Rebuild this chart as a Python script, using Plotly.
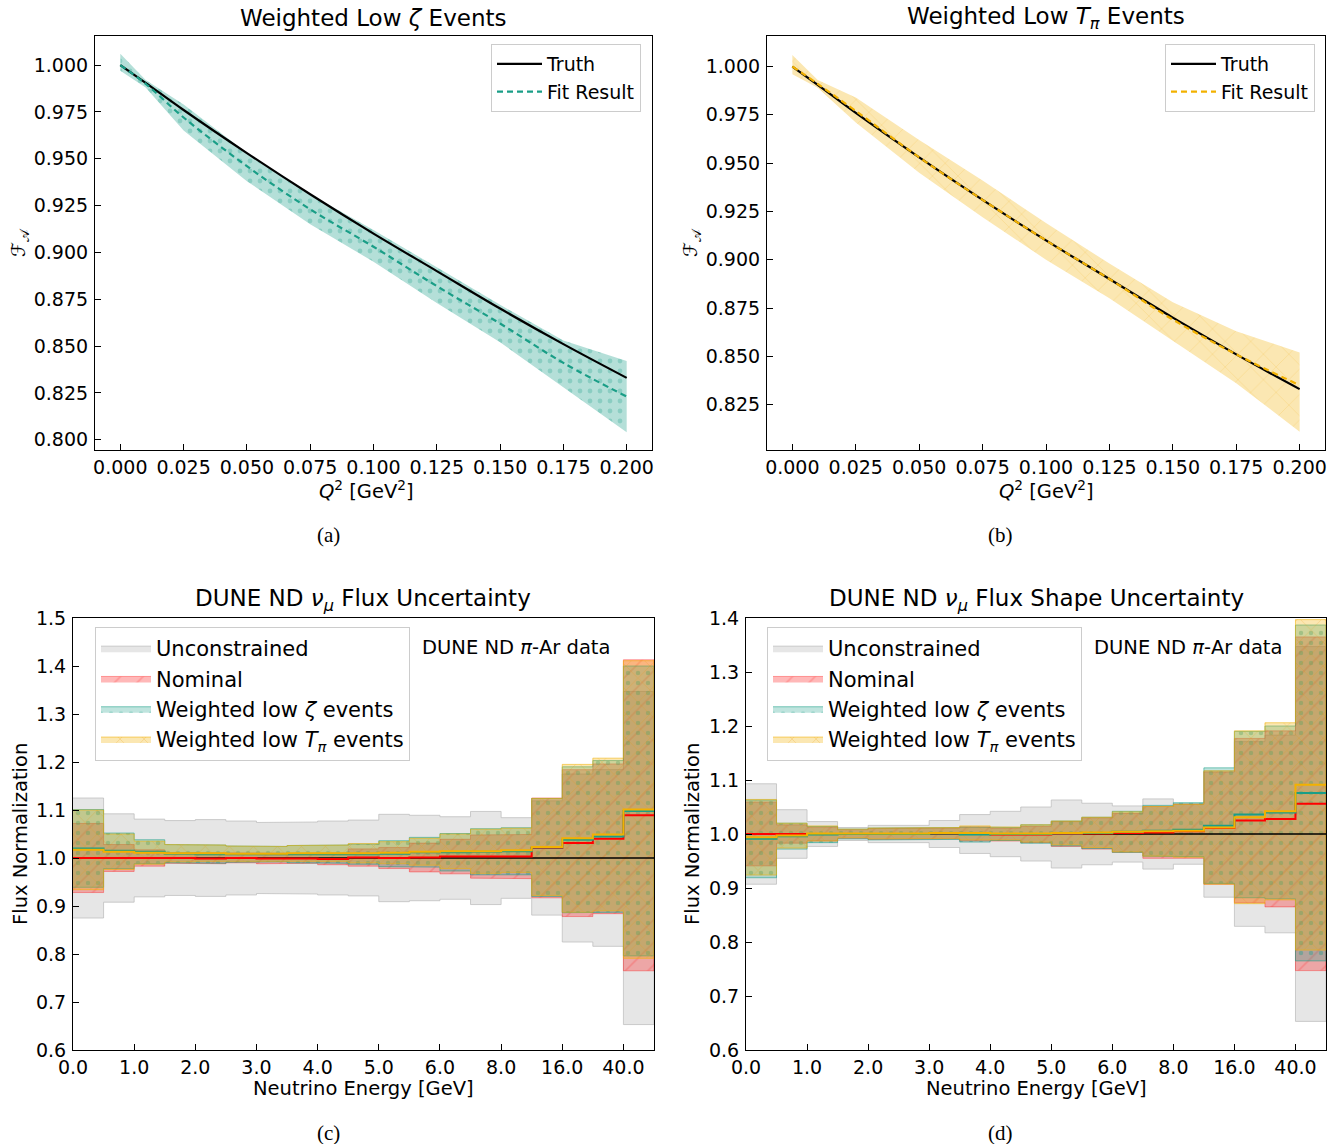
import plotly.graph_objects as go

W, H = 1338, 1144
FONT = "DejaVu Sans"

# ---------------- data: top panels (form factor vs Q^2) ----------------
q2 = [0.0, 0.01, 0.025, 0.05, 0.075, 0.1, 0.125, 0.15, 0.175, 0.2]
truth = [1.000, 0.9905, 0.976, 0.953, 0.931, 0.910, 0.890, 0.870, 0.851, 0.833]

zeta_fit = [1.000, 0.990, 0.972, 0.946, 0.923, 0.903, 0.882, 0.862, 0.841, 0.823]
zeta_hi = [1.006, 0.992, 0.979, 0.953, 0.931, 0.912, 0.892, 0.872, 0.853, 0.842]
zeta_lo = [0.997, 0.988, 0.965, 0.938, 0.915, 0.895, 0.873, 0.852, 0.828, 0.804]

tpi_fit = [1.000, 0.991, 0.977, 0.953, 0.931, 0.910, 0.890, 0.869, 0.851, 0.835]
tpi_hi = [1.006, 0.993, 0.984, 0.962, 0.941, 0.919, 0.898, 0.878, 0.863, 0.852]
tpi_lo = [0.996, 0.989, 0.971, 0.945, 0.922, 0.900, 0.880, 0.858, 0.836, 0.811]

q2_ticks = [0.0, 0.025, 0.05, 0.075, 0.1, 0.125, 0.15, 0.175, 0.2]

# ---------------- data: bottom panels (flux normalisation per bin) ----------------
energy_tick_labels = ["0.0", "1.0", "2.0", "3.0", "4.0", "5.0", "6.0", "8.0", "16.0", "40.0"]
n_bins = 19

# panel (c): DUNE ND nu_mu flux uncertainty
c_unc_center = [1.0] * n_bins
c_unc_err = [0.125, 0.092, 0.081, 0.078, 0.080, 0.077, 0.074, 0.075, 0.077, 0.079,
             0.091, 0.089, 0.086, 0.097, 0.084, 0.119, 0.175, 0.184, 0.347]
c_nom_center = [1.000, 1.000, 1.000, 1.000, 0.999, 1.000, 0.999, 0.999, 0.998, 1.001,
                1.000, 1.001, 1.003, 1.003, 1.003, 1.021, 1.031, 1.040, 1.089]
c_nom_err = [0.072, 0.028, 0.017, 0.011, 0.011, 0.010, 0.011, 0.010, 0.012, 0.018,
             0.022, 0.030, 0.036, 0.045, 0.046, 0.104, 0.153, 0.156, 0.324]
c_zeta_center = [1.020, 1.015, 1.013, 1.009, 1.008, 1.008, 1.008, 1.008, 1.008, 1.008,
                 1.009, 1.012, 1.012, 1.013, 1.014, 1.022, 1.038, 1.045, 1.098]
c_zeta_err = [0.081, 0.037, 0.025, 0.019, 0.019, 0.017, 0.016, 0.018, 0.019, 0.021,
              0.027, 0.031, 0.039, 0.048, 0.049, 0.102, 0.152, 0.158, 0.302]
c_tpi_center = [1.017, 1.013, 1.011, 1.010, 1.010, 1.009, 1.009, 1.010, 1.010, 1.010,
                1.011, 1.013, 1.014, 1.014, 1.016, 1.023, 1.041, 1.049, 1.101]
c_tpi_err = [0.083, 0.037, 0.024, 0.018, 0.017, 0.016, 0.015, 0.016, 0.017, 0.020,
             0.023, 0.028, 0.036, 0.046, 0.046, 0.101, 0.154, 0.159, 0.310]

# panel (d): DUNE ND nu_mu flux shape uncertainty
d_unc_center = [1.0] * n_bins
d_unc_err = [0.093, 0.045, 0.023, 0.012, 0.016, 0.016, 0.025, 0.036, 0.042, 0.050,
             0.063, 0.057, 0.052, 0.065, 0.056, 0.117, 0.171, 0.183, 0.347]
d_nom_center = [1.000, 1.000, 1.000, 1.000, 1.000, 1.000, 1.001, 1.000, 0.999, 0.999,
                1.000, 1.001, 1.002, 1.003, 1.005, 1.011, 1.025, 1.028, 1.056]
d_nom_err = [0.059, 0.017, 0.013, 0.008, 0.010, 0.010, 0.010, 0.013, 0.012, 0.015,
             0.023, 0.029, 0.036, 0.048, 0.050, 0.104, 0.152, 0.163, 0.309]
d_zeta_center = [0.991, 0.996, 0.999, 1.000, 1.000, 1.000, 1.001, 0.999, 1.000, 1.000,
                 1.001, 1.002, 1.004, 1.006, 1.008, 1.0155, 1.036, 1.040, 1.076]
d_zeta_err = [0.072, 0.024, 0.015, 0.009, 0.011, 0.011, 0.011, 0.014, 0.012, 0.017,
              0.023, 0.029, 0.038, 0.047, 0.050, 0.107, 0.154, 0.160, 0.311]
d_tpi_center = [0.994, 0.997, 1.001, 1.001, 1.001, 1.001, 1.002, 1.002, 1.001, 1.001,
                1.002, 1.003, 1.004, 1.005, 1.006, 1.012, 1.031, 1.042, 1.091]
d_tpi_err = [0.070, 0.023, 0.014, 0.008, 0.010, 0.010, 0.010, 0.013, 0.012, 0.016,
             0.022, 0.028, 0.037, 0.046, 0.049, 0.105, 0.160, 0.164, 0.306]

# ---------------- styles ----------------
TEAL = "#1a9e87"
YELLOW = "#f2b100"
RED = "#ff0000"

SERIES_STYLE = {
    "unc": dict(name="Unconstrained", line="black", fill="rgba(200,200,200,0.45)",
                edge="rgba(185,185,185,0.7)", pattern=None),
    "nom": dict(name="Nominal", line=RED, fill="rgba(255,0,0,0.30)",
                edge="rgba(255,0,0,0.35)",
                pattern=dict(shape="/", size=16, solidity=0.10, fgcolor="rgba(255,40,40,0.5)",
                             bgcolor="rgba(255,0,0,0.28)")),
    "zeta": dict(name="Weighted low <i>ζ</i> events", line=TEAL, fill="rgba(26,158,135,0.30)",
                 edge="rgba(26,158,135,0.55)",
                 pattern=dict(shape=".", size=10, solidity=0.16, fgcolor="rgba(26,158,135,0.75)",
                              bgcolor="rgba(26,158,135,0.28)")),
    "tpi": dict(name="Weighted low <i>T</i><sub><i>π</i></sub> events", line=YELLOW,
                fill="rgba(242,177,0,0.30)", edge="rgba(242,177,0,0.55)",
                pattern=dict(shape="x", size=17, solidity=0.08, fgcolor="rgba(235,150,0,0.6)",
                             bgcolor="rgba(242,177,0,0.30)")),
}

fig = go.Figure()


def step_band(center, err):
    xs, ys = [], []
    for i, (c, e) in enumerate(zip(center, err)):
        xs += [i, i + 1]
        ys += [c + e, c + e]
    for i in range(len(center) - 1, -1, -1):
        xs += [i + 1, i]
        ys += [center[i] - err[i], center[i] - err[i]]
    return xs, ys


def add_flux_panel(xa, ya, legend, series):
    # bands first (all series), then the central step lines on top
    for key, center, err in series:
        st = SERIES_STYLE[key]
        bx, by = step_band(center, err)
        kw = dict(fillcolor=st["fill"])
        if st["pattern"] is not None:
            kw["fillpattern"] = st["pattern"]
        fig.add_trace(go.Scatter(x=bx, y=by, mode="lines", fill="toself",
                                 line=dict(color=st["edge"], width=1),
                                 name=st["name"], legend=legend, xaxis=xa, yaxis=ya,
                                 hoverinfo="skip", **kw))
    for key, center, err in series:
        st = SERIES_STYLE[key]
        fig.add_trace(go.Scatter(x=list(range(len(center) + 1)), y=list(center) + [center[-1]],
                                 mode="lines",
                                 line=dict(color=st["line"], width=1.6 if key == "unc" else 2,
                                           shape="hv"),
                                 showlegend=False, xaxis=xa, yaxis=ya, hoverinfo="skip"))


add_flux_panel("x3", "y3", "legend3", [
    ("unc", c_unc_center, c_unc_err), ("nom", c_nom_center, c_nom_err),
    ("zeta", c_zeta_center, c_zeta_err), ("tpi", c_tpi_center, c_tpi_err)])
add_flux_panel("x4", "y4", "legend4", [
    ("unc", d_unc_center, d_unc_err), ("nom", d_nom_center, d_nom_err),
    ("zeta", d_zeta_center, d_zeta_err), ("tpi", d_tpi_center, d_tpi_err)])


def add_ff_panel(xa, ya, legend, fit, lo, hi, color, fillc, pattern):
    fig.add_trace(go.Scatter(x=q2 + q2[::-1], y=hi + lo[::-1], mode="lines", fill="toself",
                             fillcolor=fillc, fillpattern=pattern,
                             line=dict(color="rgba(0,0,0,0)", width=0), showlegend=False,
                             xaxis=xa, yaxis=ya, hoverinfo="skip"))
    fig.add_trace(go.Scatter(x=q2, y=truth, mode="lines", name="Truth",
                             line=dict(color="black", width=2.2, shape="spline"),
                             legend=legend, xaxis=xa, yaxis=ya))
    fig.add_trace(go.Scatter(x=q2, y=fit, mode="lines", name="Fit Result",
                             line=dict(color=color, width=2.2, dash="6px,4px", shape="spline"),
                             legend=legend, xaxis=xa, yaxis=ya))


add_ff_panel("x", "y", "legend", zeta_fit, zeta_lo, zeta_hi, TEAL, "rgba(26,158,135,0.33)",
             dict(shape=".", size=10, solidity=0.18, fgcolor="rgba(26,158,135,0.55)",
                  bgcolor="rgba(26,158,135,0.33)"))
add_ff_panel("x2", "y2", "legend2", tpi_fit, tpi_lo, tpi_hi, YELLOW, "rgba(242,177,0,0.30)",
             dict(shape="x", size=18, solidity=0.06, fgcolor="rgba(235,160,0,0.55)",
                  bgcolor="rgba(242,177,0,0.30)"))


# ---------------- axes ----------------
def px_x(a, b):
    return [a / W, b / W]


def px_y(top, bottom):
    return [1 - bottom / H, 1 - top / H]


axis_common = dict(showline=True, linecolor="black", linewidth=1.2, mirror=True,
                   ticks="inside", ticklen=6, tickwidth=1.2, tickcolor="black",
                   showgrid=False, zeroline=False, automargin=False,
                   tickfont=dict(family=FONT, size=19, color="black"))
xstand = dict(ticklabelstandoff=0)
ystand = dict(ticklabelstandoff=2)

layout_axes = dict(
    xaxis=dict(domain=px_x(95, 652), range=[-0.01, 0.21], tickvals=q2_ticks, tickformat=".3f",
               anchor="y", **axis_common, **xstand),
    yaxis=dict(domain=px_y(36, 450), range=[0.7945, 1.0155], dtick=0.025, tick0=0,
               tickformat=".3f", anchor="x", **axis_common, **ystand),
    xaxis2=dict(domain=px_x(767, 1325), range=[-0.01, 0.21], tickvals=q2_ticks, tickformat=".3f",
                anchor="y2", **axis_common, **xstand),
    yaxis2=dict(domain=px_y(36, 450), range=[0.8015, 1.0158], dtick=0.025, tick0=0,
                tickformat=".3f", anchor="x2", **axis_common, **ystand),
    xaxis3=dict(domain=px_x(73, 654), range=[0, n_bins], tickvals=list(range(0, n_bins, 2)),
                ticktext=energy_tick_labels, anchor="y3", **axis_common, **xstand),
    yaxis3=dict(domain=px_y(618, 1050), range=[0.6, 1.5], dtick=0.1, tick0=0,
                tickformat=".1f", anchor="x3", **axis_common, **ystand),
    xaxis4=dict(domain=px_x(746, 1326), range=[0, n_bins], tickvals=list(range(0, n_bins, 2)),
                ticktext=energy_tick_labels, anchor="y4", **axis_common, **xstand),
    yaxis4=dict(domain=px_y(618, 1050), range=[0.6, 1.4], dtick=0.1, tick0=0,
                tickformat=".1f", anchor="x4", **axis_common, **ystand),
)

legend_common = dict(bgcolor="rgba(255,255,255,0.85)", bordercolor="#cccccc", borderwidth=1,
                     xanchor="right", yanchor="top", tracegroupgap=0)
legends = dict(
    legend=dict(x=641 / W, y=1 - 44 / H, font=dict(family=FONT, size=19, color="black"),
                itemwidth=45, **legend_common),
    legend2=dict(x=1315 / W, y=1 - 44 / H, font=dict(family=FONT, size=19, color="black"),
                 itemwidth=45, **legend_common),
    legend3=dict(x=410 / W, y=1 - 627 / H, font=dict(family=FONT, size=21, color="black"),
                 itemwidth=50, **legend_common),
    legend4=dict(x=1082 / W, y=1 - 627 / H, font=dict(family=FONT, size=21, color="black"),
                 itemwidth=50, **legend_common),
)


def ann(text, x, y, size, family=FONT, angle=0):
    return dict(text=text, x=x / W, y=1 - y / H, xref="paper", yref="paper", showarrow=False,
                xanchor="center", yanchor="middle", textangle=angle,
                font=dict(family=family, size=size, color="black"))


annotations = [
    ann("Weighted Low <i>ζ</i> Events", 373, 18, 23),
    ann("Weighted Low <i>T</i><sub><i>π</i></sub> Events", 1046, 18, 23),
    ann("DUNE ND <i>ν</i><sub><i>μ</i></sub> Flux Uncertainty", 363, 600, 23),
    ann("DUNE ND <i>ν</i><sub><i>μ</i></sub> Flux Shape Uncertainty", 1036, 600, 23),
    ann("<i>Q</i><sup>2</sup> [GeV<sup>2</sup>]", 366, 490, 19.5),
    ann("<i>Q</i><sup>2</sup> [GeV<sup>2</sup>]", 1046, 490, 19.5),
    ann("Neutrino Energy [GeV]", 363, 1088, 19.5),
    ann("Neutrino Energy [GeV]", 1036, 1088, 19.5),
    ann("ℱ<sub>𝒜</sub>", 20, 243, 19, angle=-90),
    ann("ℱ<sub>𝒜</sub>", 692, 243, 19, angle=-90),
    ann("Flux Normalization", 20, 834, 19.5, angle=-90),
    ann("Flux Normalization", 692, 834, 19.5, angle=-90),
    ann("DUNE ND <i>π</i>-Ar data", 516, 647, 19.5),
    ann("DUNE ND <i>π</i>-Ar data", 1188, 647, 19.5),
    ann("(a)", 328, 535, 21, family="Liberation Serif"),
    ann("(b)", 1000, 535, 21, family="Liberation Serif"),
    ann("(c)", 328, 1133, 21, family="Liberation Serif"),
    ann("(d)", 1000, 1133, 21, family="Liberation Serif"),
]

fig.update_layout(width=W, height=H, margin=dict(l=0, r=0, t=0, b=0),
                  paper_bgcolor="white", plot_bgcolor="white",
                  font=dict(family=FONT, color="black"),
                  annotations=annotations, **layout_axes, **legends)

fig.write_html("out.html", config={"displayModeBar": False},
               post_script="document.body.style.margin='0';document.body.style.overflow='hidden';")
